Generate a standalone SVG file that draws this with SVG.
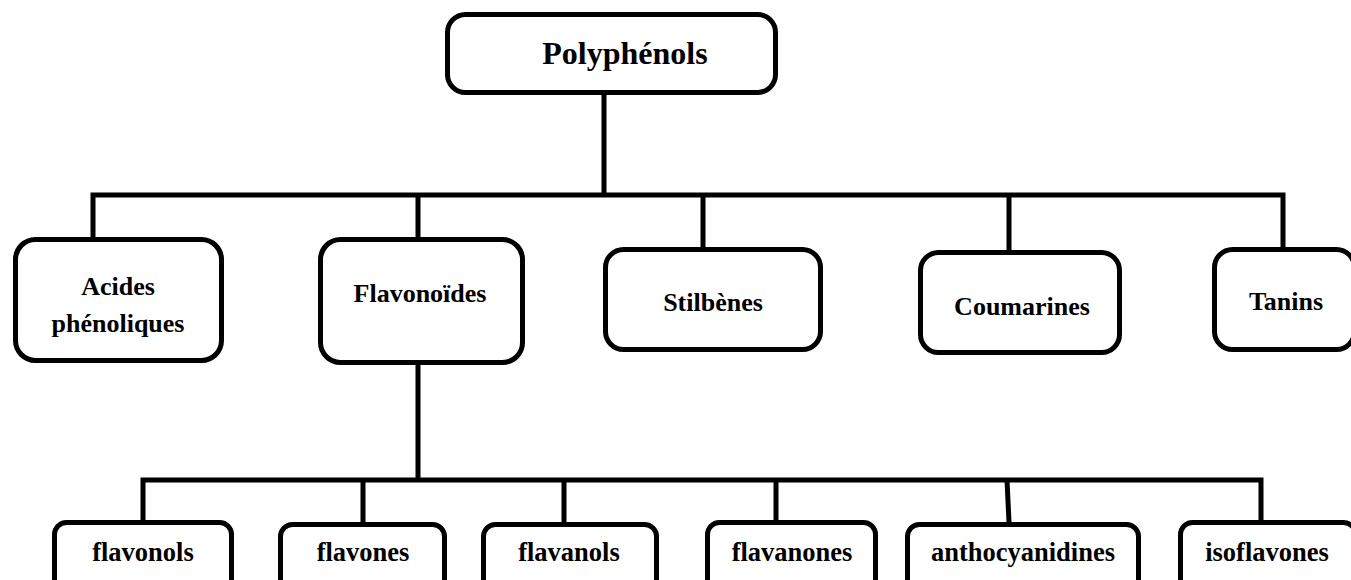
<svg xmlns="http://www.w3.org/2000/svg" width="1351" height="580" viewBox="0 0 1351 580">
<style>
.box{fill:#fff;stroke:#000;stroke-width:5}
.ln{fill:none;stroke:#000;stroke-width:5;stroke-linecap:square}
text{font-family:"Liberation Serif","Times New Roman",serif;font-weight:bold;fill:#000;text-anchor:middle}
.t1{font-size:32px}
.t2{font-size:26px}
.t3{font-size:26.5px}
</style>
<rect width="1351" height="580" fill="#fff"/>
<g id="connectors">
<path class="ln" d="M604 95V195M93 195H1283M93 195V237M418 195V237M703 195V247M1009 195V250M1283 195V247"/>
<path class="ln" d="M418 365V480M143 480H1261M143 480V520M363 480V522M564 480V522M776 480V520M1007 480L1009 522M1261 480V520"/>
</g>
<g id="n-polyphenols"><rect class="box" x="447.5" y="14.5" width="328" height="78" rx="18"/><text class="t1" x="625" y="64">Polyphénols</text></g>
<g id="n-acides"><rect class="box" x="15.5" y="239.5" width="206" height="121" rx="20"/><text class="t2" x="118" y="295">Acides</text><text class="t2" x="118" y="332">phénoliques</text></g>
<g id="n-flavonoides"><rect class="box" x="320.5" y="239.5" width="202" height="123" rx="20"/><text class="t2" x="420" y="302">Flavonoïdes</text></g>
<g id="n-stilbenes"><rect class="box" x="605.5" y="249.5" width="215" height="100" rx="18"/><text class="t2" x="713" y="311">Stilbènes</text></g>
<g id="n-coumarines"><rect class="box" x="920.5" y="252.5" width="199" height="100" rx="18"/><text class="t2" x="1022" y="315">Coumarines</text></g>
<g id="n-tanins"><rect class="box" x="1214.5" y="249.5" width="140" height="100" rx="18"/><text class="t2" x="1286" y="310">Tanins</text></g>
<g id="n-flavonols"><rect class="box" x="54.5" y="522.5" width="177" height="80" rx="12"/><text class="t3" x="143" y="561">flavonols</text></g>
<g id="n-flavones"><rect class="box" x="280.5" y="524.5" width="164" height="80" rx="12"/><text class="t3" x="363" y="561">flavones</text></g>
<g id="n-flavanols"><rect class="box" x="483.5" y="524.5" width="173" height="80" rx="12"/><text class="t3" x="569" y="561">flavanols</text></g>
<g id="n-flavanones"><rect class="box" x="707.5" y="522.5" width="168" height="80" rx="12"/><text class="t3" x="792" y="561">flavanones</text></g>
<g id="n-anthocyanidines"><rect class="box" x="907.5" y="524.5" width="231" height="80" rx="12"/><text class="t3" x="1023" y="561">anthocyanidines</text></g>
<g id="n-isoflavones"><rect class="box" x="1180.5" y="522.5" width="175" height="80" rx="12"/><text class="t3" x="1267" y="561">isoflavones</text></g>
</svg>
